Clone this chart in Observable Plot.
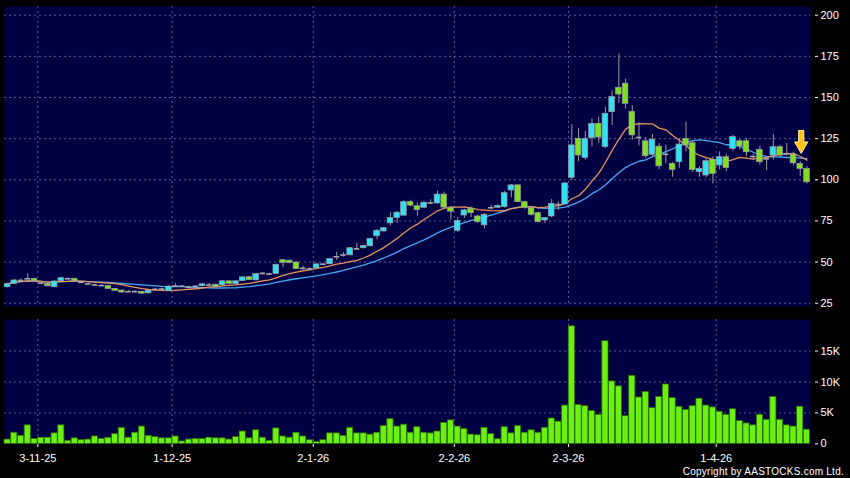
<!DOCTYPE html>
<html>
<head>
<meta charset="utf-8">
<script src="https://cdn.jsdelivr.net/npm/d3@7"></script>
<script src="https://cdn.jsdelivr.net/npm/@observablehq/plot@0.6"></script>
<style>
  body { margin: 0; background: #000; }
  #wrap { width: 850px; height: 478px; background: #000; overflow: hidden; font-family: "Liberation Sans", Arial, sans-serif; }
  #wrap svg { display: block; }
  #copy { height: 14px; line-height: 15px; text-align: right; color: #fff; font-size: 10px; letter-spacing: 0.25px; padding-right: 6px; }
</style>
</head>
<body>
<div id="wrap">
  <div id="topPanel"></div>
  <div id="botPanel"></div>
  <div id="copy">Copyright by AASTOCKS.com Ltd.</div>
</div>
<script>
// ---- data (one value per trading session, oldest first) ----
const openP = [34.7,36.7,38.8,39.8,39.8,37.2,36.7,34.7,38.4,39.8,
  39.8,37.7,36.7,36.1,35.7,35.5,33.7,32.7,32.0,32.0,
  31.9,31.0,33.4,33.6,32.5,35.4,35.3,34.7,35.2,35.3,
  36.0,36.2,35.9,38.3,36.6,38.4,40.8,38.9,43.1,42.7,
  42.7,51.1,50.8,49.7,46.2,45.8,46.2,48.7,48.7,53.2,
  54.3,54.1,58.0,58.4,59.6,65.7,68.6,73.5,76.8,78.2,
  86.4,83.9,83.0,85.9,85.6,91.0,82.9,69.0,78.3,82.4,
  77.7,72.3,83.0,83.0,83.4,93.5,96.6,86.4,82.8,79.7,
  75.3,77.7,84.9,85.0,101.2,124.9,113.3,125.3,134.0,119.9,
  141.1,155.9,158.4,141.3,125.7,123.4,115.2,120.1,115.5,109.7,
  110.7,124.9,122.2,104.6,102.6,112.1,108.7,113.7,118.8,123.4,
  123.4,114.1,118.2,112.7,114.7,119.8,115.8,115.3,109.7,106.6];
const highP = [37.2,39.5,39.8,42.8,40.2,38.0,37.0,38.5,40.8,40.3,
  40.2,38.2,37.2,36.6,36.2,35.8,34.0,33.0,32.6,32.5,
  32.3,33.0,34.0,34.2,35.6,36.8,35.8,35.3,35.6,36.8,
  37.0,36.5,38.6,38.6,38.6,41.0,41.2,43.2,43.6,43.2,
  48.8,51.6,51.3,50.0,47.5,46.5,48.9,49.2,52.3,56.0,
  55.8,58.9,61.5,60.2,64.5,69.8,71.0,80.0,80.6,87.3,
  87.6,86.0,86.8,87.8,93.0,92.5,83.5,77.0,82.0,83.5,
  78.5,79.5,84.5,84.8,93.0,97.0,97.0,87.0,83.5,80.5,
  77.0,88.0,86.5,98.0,133.5,131.0,129.5,137.0,138.0,144.0,
  154.0,176.5,161.0,145.0,134.5,125.5,127.5,122.0,121.0,110.5,
  125.0,135.0,124.0,108.0,113.0,114.0,117.0,115.5,127.0,124.5,
  125.0,115.5,120.5,113.5,127.5,121.0,122.0,116.5,111.0,108.0];
const lowP = [34.3,36.5,38.3,39.3,38.0,36.6,35.0,34.5,38.0,39.2,
  38.2,37.2,36.2,35.6,35.2,33.4,32.2,30.8,31.4,31.5,
  30.4,30.8,33.0,33.1,32.2,35.0,34.9,34.3,34.8,35.0,
  35.6,34.5,35.6,36.4,36.4,38.2,38.8,38.7,42.4,42.2,
  42.5,46.5,49.0,45.5,45.2,45.0,45.8,48.0,48.4,51.0,
  53.0,53.8,57.2,58.0,59.2,63.5,68.2,72.0,73.5,77.8,
  83.5,77.8,82.5,85.0,85.2,82.0,75.5,68.0,76.5,77.0,
  73.5,70.2,81.8,82.5,82.8,89.0,86.0,82.0,78.0,73.8,
  73.5,77.0,81.5,84.5,99.5,111.0,112.0,120.0,122.0,119.0,
  133.0,146.5,143.0,124.0,120.5,113.0,113.5,106.0,110.0,101.5,
  107.0,117.0,104.5,101.5,101.0,97.5,106.0,105.0,117.0,118.0,
  114.0,112.0,109.0,105.5,112.0,113.0,114.5,108.5,102.0,97.5];
const closeP = [36.7,38.8,38.8,39.8,38.4,37.2,35.3,38.2,40.2,39.8,
  38.4,37.7,36.7,36.1,35.7,33.7,32.5,31.5,32.0,32.0,
  30.8,32.4,33.4,33.6,35.1,35.4,35.3,34.7,35.2,36.5,
  36.0,34.8,38.3,36.6,38.3,40.7,39.0,42.7,43.1,42.7,
  48.2,49.5,49.5,45.7,46.2,45.8,48.6,48.7,51.8,53.2,
  54.3,58.4,58.0,59.7,64.0,69.0,70.6,76.7,80.0,86.4,
  84.3,81.6,86.0,85.9,91.0,83.1,80.6,75.0,81.4,79.7,
  74.3,78.7,83.0,84.0,91.9,96.6,86.4,83.0,78.7,74.3,
  76.7,85.4,84.9,97.8,120.9,114.8,124.9,134.0,125.7,140.1,
  150.3,151.8,146.2,127.0,125.7,114.3,124.4,108.2,115.5,106.0,
  121.4,120.8,106.0,106.6,111.3,103.6,113.7,107.2,125.9,120.2,
  116.7,114.1,110.7,112.7,119.8,114.7,115.8,110.0,106.6,98.5];
// volume in thousands
const volumeK = [0.7,1.8,1.3,3.0,0.8,1.0,1.0,1.7,3.0,0.5,
  0.9,0.6,0.7,1.2,0.8,1.0,1.6,2.6,1.0,1.8,
  2.8,1.3,1.1,0.9,0.9,1.2,0.4,0.7,0.8,0.8,
  1.0,0.9,0.9,0.7,1.1,2.0,0.9,2.2,1.0,0.5,
  2.5,1.2,1.0,1.8,1.2,0.6,0.3,0.6,1.7,1.7,
  1.3,2.6,1.7,1.7,1.5,1.8,2.9,4.0,2.8,3.1,
  1.8,2.7,1.8,1.7,2.0,3.4,3.8,2.8,2.4,1.5,
  1.4,2.6,1.6,0.75,2.7,1.7,2.9,1.8,2.2,1.8,
  2.6,4.1,3.6,6.2,19.0,6.3,6.1,5.3,4.7,16.6,
  10.1,9.3,4.5,11.0,7.5,8.4,5.8,7.6,9.6,7.4,
  6.0,5.5,6.1,7.3,6.2,5.9,5.2,4.7,5.6,3.7,
  3.3,3.0,4.7,3.9,7.6,3.9,3.0,2.8,6.0,2.3];
const tickLabels = ["3-11-25", "1-12-25", "2-1-26", "2-2-26", "2-3-26", "1-4-26"];
const tickIndex = [5, 25, 46, 67, 84, 106];   // session index of each labelled date
const priceTicks = [25, 50, 75, 100, 125, 150, 175, 200];
const volumeTicks = [0, 5, 10, 15];
const signal = [{i: 118, price: 116}];        // yellow arrow marker

// ---- styling ----
const NAVY = "#000042";
const GRID = "#5c5c90";
const CYAN = "#2fe3f2";
const GREEN = "#7fe022";
const DOJI = "#a8a8a8";
const WICK = "#9a9a9a";
const MA10 = "#e8935e";
const MA20 = "#46a6f2";
const VOL = "#6cf012";
const FONT = "'Liberation Sans', Arial, sans-serif";

const rows = openP.map((o, i) => ({
  i, open: o, high: highP[i], low: lowP[i], close: closeP[i], vol: volumeK[i]
}));
const dojis = rows.filter(d => d.open === d.close);
const bodies = rows.filter(d => d.open !== d.close);
const gridPos = tickIndex.map(d => d - 0.5);
const labelAt = new Map(gridPos.map((p, k) => [p, tickLabels[k]]));
const xDomain = [-0.4615, 119.53];
const half = 0.42;

const arrowSymbol = {
  draw(ctx) {
    ctx.moveTo(-2.6, -23);
    ctx.lineTo(2.6, -23);
    ctx.lineTo(2.6, -11.5);
    ctx.lineTo(6.6, -11.5);
    ctx.lineTo(0, 0);
    ctx.lineTo(-6.6, -11.5);
    ctx.lineTo(-2.6, -11.5);
    ctx.closePath();
  }
};

const topChart = Plot.plot({
  width: 850, height: 312,
  marginLeft: 4, marginRight: 40, marginTop: 6, marginBottom: 6,
  style: {background: "transparent", color: "#fff", fontFamily: FONT, fontSize: "11px"},
  x: {domain: xDomain, axis: null},
  y: {domain: [23.0, 205.3], axis: null},
  marks: [
    Plot.frame({fill: NAVY, stroke: "none"}),
    Plot.gridY(priceTicks, {stroke: GRID, strokeOpacity: 1, strokeDasharray: "2,3"}),
    Plot.gridX(gridPos, {stroke: GRID, strokeOpacity: 1, strokeDasharray: "2,3"}),
    Plot.lineY(rows, Plot.windowY({k: 20, anchor: "end", reduce: "mean"}, {x: "i", y: "close", stroke: MA20, strokeWidth: 1.3})),
    Plot.lineY(rows, Plot.windowY({k: 10, anchor: "end", reduce: "mean"}, {x: "i", y: "close", stroke: MA10, strokeWidth: 1.3})),
    Plot.ruleX(rows, {x: "i", y1: "low", y2: "high", stroke: WICK, strokeWidth: 1}),
    Plot.rect(bodies, {
      x1: d => d.i - half, x2: d => d.i + half, y1: "open", y2: "close",
      fill: d => d.close > d.open ? CYAN : GREEN,
      stroke: "#9c9ca6", strokeWidth: 0.7
    }),
    Plot.ruleY(dojis, {y: "open", x1: d => d.i - half, x2: d => d.i + half, stroke: DOJI, strokeWidth: 1.6}),
    Plot.dot(signal, {x: "i", y: "price", dx: 1, symbol: arrowSymbol, fill: "#ffc414", stroke: "#fff0a0", strokeWidth: 1}),
    Plot.axisY(priceTicks, {anchor: "right", label: null, tickSize: 3, tickPadding: 3, dx: 4, color: "#fff", fontSize: 11, tickFormat: d => String(d)})
  ]
});
document.getElementById("topPanel").appendChild(topChart);

const botChart = Plot.plot({
  width: 850, height: 152,
  marginLeft: 4, marginRight: 40, marginTop: 7, marginBottom: 20,
  style: {background: "transparent", color: "#fff", fontFamily: FONT, fontSize: "11px"},
  x: {domain: xDomain, axis: null},
  y: {domain: [-0.1, 20.1], axis: null},
  marks: [
    Plot.frame({fill: NAVY, stroke: "none"}),
    Plot.gridY([5, 10, 15], {stroke: GRID, strokeOpacity: 1, strokeDasharray: "2,3"}),
    Plot.gridX(gridPos, {stroke: GRID, strokeOpacity: 1, strokeDasharray: "2,3"}),
    Plot.rect(rows, {x1: d => d.i - 0.46, x2: d => d.i + 0.46, y1: 0, y2: "vol", fill: VOL, stroke: "#2a6e00", strokeWidth: 0.8}),
    Plot.axisY(volumeTicks, {anchor: "right", label: null, tickSize: 3, tickPadding: 3, dx: 4, color: "#fff", fontSize: 11, tickFormat: d => d === 0 ? "0" : d + "K"}),
    Plot.axisX(gridPos, {anchor: "bottom", label: null, tickSize: 3, tickPadding: 7, color: "#fff", fontSize: 11, tickFormat: d => labelAt.get(d)})
  ]
});
document.getElementById("botPanel").appendChild(botChart);
</script>
</body>
</html>
